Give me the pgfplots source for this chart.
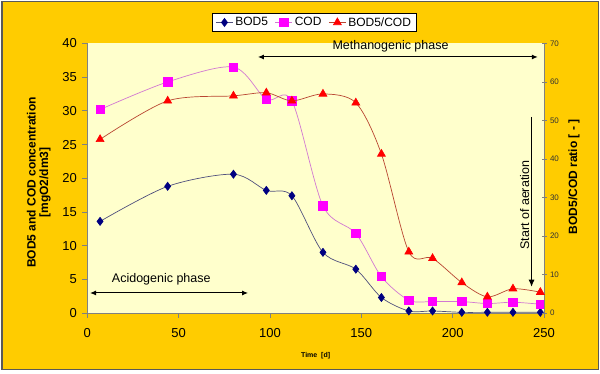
\documentclass[border=0pt]{standalone}
\usepackage{pgfplots}
\pgfplotsset{compat=1.18}
\usepackage{fontspec}
\setmainfont{Liberation Sans}
\usetikzlibrary{arrows.meta}
\definecolor{bgorange}{RGB}{255,204,0}
\definecolor{plotbg}{RGB}{255,255,204}
\definecolor{bodblue}{RGB}{0,0,128}
\definecolor{bodline}{RGB}{80,80,125}
\definecolor{codmag}{RGB}{255,0,255}
\definecolor{codline}{RGB}{210,120,210}
\definecolor{ratred}{RGB}{255,0,0}
\definecolor{ratline}{RGB}{185,70,50}
\definecolor{axgray}{RGB}{128,128,128}

\begin{document}
\begin{tikzpicture}
\fill[white] (-87.3pt,-61pt) rectangle (512.7pt,313pt);
\filldraw[fill=bgorange, draw=black!65, line width=1.2pt] (-85.3pt,-56.5pt) rectangle (511.2pt,311.5pt);

\begin{axis}[
  at={(0pt,0pt)}, anchor=south west,
  scale only axis, width=456.7pt, height=269.5pt,
  xmin=0, xmax=250, ymin=0, ymax=40,
  xtick={0,50,...,250}, ytick={0,5,...,40},
  axis x line*=bottom, axis y line*=left,
  axis line style={axgray, line width=0.8pt},
  tick style={axgray, line width=0.8pt},
  tick align=outside, major tick length=5pt,
  axis background/.style={fill=plotbg},
  tick label style={font=\fontsize{13}{15}\selectfont, /pgf/number format/assume math mode=true},
  xticklabel style={yshift=-7pt},
  yticklabel style={xshift=-2pt},
  xlabel={Time\ \ [d]},
  xlabel style={font=\bfseries\fontsize{7}{8}\selectfont, at={(axis description cs:0.5,-0.16)}, anchor=center},
  ylabel={BOD5 and COD concentration\\\relax{[mgO2/dm3]}},
  ylabel style={align=center, font=\bfseries\fontsize{12}{12.5}\selectfont, at={(axis description cs:-0.106,0.484)}, anchor=center},
  clip mode=individual,
]
\addplot[smooth, bodline, line width=0.7pt, mark=diamond*, mark size=4pt, mark options={draw=bodblue, fill=bodblue, solid}] coordinates {
(7,13.6) (44,18.8) (80,20.6) (98,18.2) (112,17.4) (129,9.0) (147,6.5) (161,2.3) (176,0.3) (189,0.3) (205,0.1) (219,0.1) (233,0.1) (248,0.1)};
\addplot[smooth, codline, line width=0.7pt, mark=square*, mark size=4.2pt, mark options={draw=codmag, fill=codmag, solid}] coordinates {
(7,30.2) (44,34.3) (80,36.5) (98,31.7) (112,31.5) (129,15.9) (147,11.8) (161,5.4) (176,1.9) (189,1.7) (205,1.7) (219,1.4) (233,1.6) (248,1.3)};

\draw[{Latex[length=6pt,width=5pt]}-{Latex[length=6pt,width=5pt]}, line width=1pt] (axis cs:93.4,38) -- (axis cs:246.6,38);
\node[font=\fontsize{12.5}{14}\selectfont] at (axis cs:166,39.6) {Methanogenic phase};
\draw[{Latex[length=6pt,width=5pt]}-{Latex[length=6pt,width=5pt]}, line width=1pt] (axis cs:1.5,2.97) -- (axis cs:88,2.97);
\node[font=\fontsize{12.5}{14}\selectfont] at (axis cs:40.5,5.0) {Acidogenic phase};
\draw[-{Latex[length=7pt,width=6pt]}, line width=0.8pt] (axis cs:243.2,29.1) -- (axis cs:243.2,3.9);
\node[rotate=90, font=\fontsize{12.5}{14}\selectfont] at (axis cs:239.4,16) {Start of aeration};
\end{axis}

\begin{axis}[
  at={(0pt,0pt)}, anchor=south west,
  scale only axis, width=456.7pt, height=269.5pt,
  xmin=0, xmax=250, ymin=0, ymax=70,
  ytick={0,10,...,70},
  axis x line=none, axis y line*=right,
  axis line style={axgray, line width=0.8pt},
  tick style={axgray, line width=0.8pt},
  tick align=center, major tick length=5pt,
  tick label style={font=\fontsize{8}{9}\selectfont, black!80, /pgf/number format/assume math mode=true},
  ylabel={BOD5/COD ratio [ - ]},
  ylabel style={font=\bfseries\fontsize{12}{13}\selectfont, at={(axis description cs:1.066,0.505)}, anchor=center},
  clip mode=individual,
  legend style={at={(axis description cs:0.497,1.078)}, anchor=center, legend columns=3, draw=black, fill=white, font=\fontsize{12}{13}\selectfont, inner xsep=3pt, inner ysep=2pt, /tikz/every even column/.append style={column sep=5pt}},
]
\addlegendimage{bodline, line width=0.7pt, mark=diamond*, mark size=4pt, mark options={draw=bodblue, fill=bodblue, solid}}
\addlegendentry{BOD5}
\addlegendimage{codline, line width=0.7pt, mark=square*, mark size=4.2pt, mark options={draw=codmag, fill=codmag, solid}}
\addlegendentry{COD}
\addplot[smooth, ratline, line width=0.7pt, mark=triangle*, mark size=4.5pt, mark options={draw=ratred, fill=ratred, solid}] coordinates {
(7,45.1) (44,55.1) (80,56.4) (98,57.2) (112,55.1) (129,56.9) (147,54.6) (161,41.3) (176,15.9) (189,14.2) (205,7.9) (219,4.2) (233,6.3) (248,5.4)};
\addlegendentry{BOD5/COD}
\end{axis}
\pgfresetboundingbox
\path (-87.3pt,-61pt) rectangle (512.7pt,313pt);
\end{tikzpicture}
\end{document}
